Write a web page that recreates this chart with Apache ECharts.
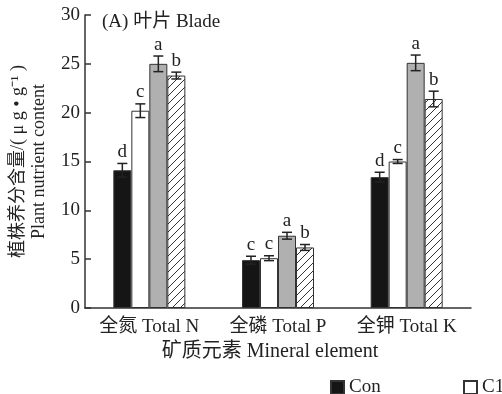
<!DOCTYPE html>
<html><head><meta charset="utf-8">
<script src="https://cdn.jsdelivr.net/npm/echarts@6/dist/echarts.min.js"></script>
<style>html,body{margin:0;padding:0;background:#fff}#c{width:502px;height:394px}</style>
</head><body><div id="c"></div>
<script>
const categories = ['全氮 Total N', '全磷 Total P', '全钾 Total K'];
const seriesNames = ['Con', 'C1', 'C2', 'C3'];
const conValues = [14.1, 4.9, 13.4];
const c1Values = [20.2, 5.1, 15.0];
const c2Values = [25.0, 7.4, 25.1];
const c3Values = [23.8, 6.2, 21.4];
const conErr = [0.7, 0.4, 0.5];
const c1Err = [0.7, 0.25, 0.2];
const c2Err = [0.8, 0.35, 0.8];
const c3Err = [0.35, 0.3, 0.8];
const conLetters = ['d', 'c', 'd'];
const c1Letters = ['c', 'c', 'c'];
const c2Letters = ['a', 'a', 'a'];
const c3Letters = ['b', 'b', 'b'];
const yTicks = [0, 5, 10, 15, 20, 25, 30];

const FONT = '"Liberation Serif","Noto Sans CJK SC",serif';
const BAR_W = 18;

// hatch pattern
const pat = document.createElement('canvas');
pat.width = 8; pat.height = 8;
const pc = pat.getContext('2d');
pc.fillStyle = '#fff'; pc.fillRect(0, 0, 8, 8);
pc.strokeStyle = '#333'; pc.lineWidth = 1;
pc.beginPath();
pc.moveTo(0, 8); pc.lineTo(8, 0);
pc.moveTo(-1, 1); pc.lineTo(1, -1);
pc.moveTo(7, 9); pc.lineTo(9, 7);
pc.stroke();

const values = [conValues, c1Values, c2Values, c3Values];
const errs = [conErr, c1Err, c2Err, c3Err];
const letters = [conLetters, c1Letters, c2Letters, c3Letters];
const fills = ['#151515', '#ffffff', '#b0b0b0', { image: pat, repeat: 'repeat' }];

const series = [];
seriesNames.forEach((name, k) => {
  series.push({
    name: name, type: 'bar', barWidth: BAR_W, barGap: '0%',
    data: values[k],
    itemStyle: { color: fills[k], borderColor: '#333', borderWidth: 1 },
    z: 2
  });
});
seriesNames.forEach((name, k) => {
  const offset = (k - 1.5) * BAR_W;
  series.push({
    type: 'custom', name: name + '_err', z: 5, silent: true,
    data: values[k].map((v, i) => [i, v, errs[k][i]]),
    renderItem: function (params, api) {
      const xi = api.value(0), v = api.value(1), e = api.value(2);
      const top = api.coord([xi, v + e]);
      const bot = api.coord([xi, v - e]);
      const x = top[0] + offset;
      const st = { stroke: '#222', lineWidth: 1.5 };
      return {
        type: 'group',
        children: [
          { type: 'line', shape: { x1: x, y1: top[1], x2: x, y2: bot[1] }, style: st },
          { type: 'line', shape: { x1: x - 5, y1: top[1], x2: x + 5, y2: top[1] }, style: st },
          { type: 'line', shape: { x1: x - 5, y1: bot[1], x2: x + 5, y2: bot[1] }, style: st },
          { type: 'text', style: { x: x, y: top[1] - 2, text: letters[k][params.dataIndex],
              font: '19px ' + FONT, fill: '#222', align: 'center', verticalAlign: 'bottom' } }
        ]
      };
    }
  });
});

const legendBase = {
  top: 373, itemWidth: 13, itemHeight: 13, icon: 'rect',
  textStyle: { fontFamily: FONT, fontSize: 19, color: '#222' }
};

const chart = echarts.init(document.getElementById('c'));
chart.setOption({
  animation: false,
  backgroundColor: '#fff',
  textStyle: { fontFamily: FONT },
  title: {
    text: '(A) 叶片 Blade', left: 97, top: 8,
    textStyle: { fontFamily: FONT, fontSize: 19, fontWeight: 'normal', color: '#222' }
  },
  legend: [
    Object.assign({ data: ['Con'], left: 325 }, legendBase),
    Object.assign({ data: ['C1'], left: 458 }, legendBase)
  ],
  grid: { left: 83, right: 31, top: 15, bottom: 86 },
  xAxis: {
    type: 'category', data: categories,
    axisLine: { lineStyle: { color: '#333', width: 1.5 } },
    axisTick: { show: false },
    axisLabel: { fontFamily: FONT, fontSize: 19, color: '#222', margin: 10, interval: 0 },
    name: '矿质元素 Mineral element', nameLocation: 'middle', nameGap: 34,
    nameTextStyle: { fontFamily: FONT, fontSize: 20, color: '#222', padding: [0, 16, 0, 0] }
  },
  yAxis: {
    type: 'value', min: yTicks[0], max: yTicks[yTicks.length - 1], interval: 5,
    axisLine: { show: true, lineStyle: { color: '#333', width: 1.5 } },
    axisTick: { show: true, inside: true, length: 6, lineStyle: { color: '#333', width: 1.5 } },
    splitLine: { show: false },
    axisLabel: { fontFamily: FONT, fontSize: 19, color: '#222', margin: 5 },
    name: '植株养分含量/( μ g • g⁻¹ )\nPlant nutrient content',
    nameLocation: 'middle', nameRotate: 90, nameGap: 35,
    nameTextStyle: { fontFamily: FONT, fontSize: 18, color: '#222', lineHeight: 21 }
  },
  series: series
});
</script></body></html>
